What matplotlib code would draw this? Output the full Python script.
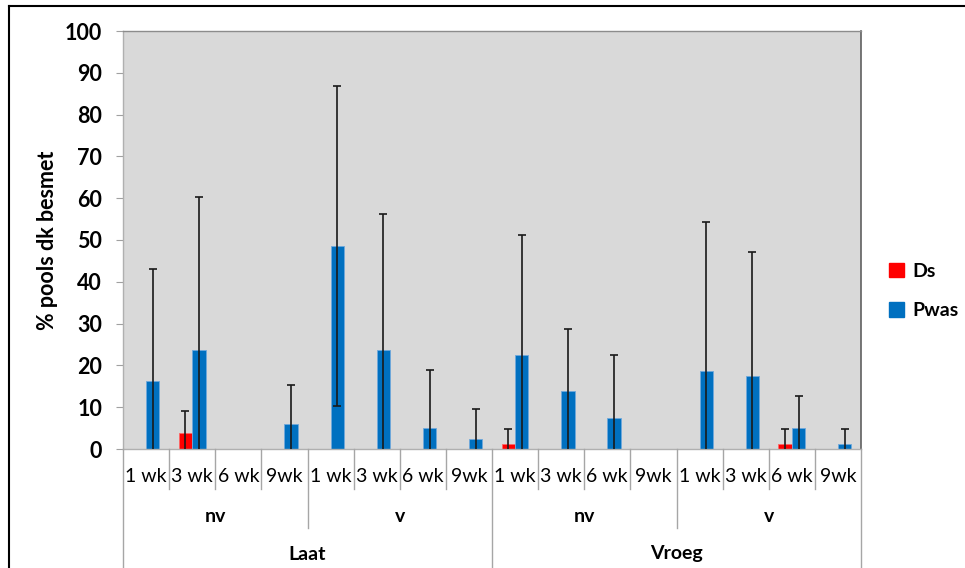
import matplotlib
matplotlib.use("Agg")
import matplotlib.pyplot as plt
import matplotlib.transforms as mtransforms
from matplotlib.lines import Line2D
import numpy as np

# ---- data ----
weeks = ["1 wk", "3 wk", "6 wk", "9wk"] * 4
treat = ["nv", "v", "nv", "v"]
timing = ["Laat", "Vroeg"]
ds_vals = [0, 3.8, 0, 0, 0, 0, 0, 0, 1.2, 0, 0, 0, 0, 0, 1.2, 0]
ds_err = [0, 5.3, 0, 0, 0, 0, 0, 0, 3.5, 0, 0, 0, 0, 0, 3.5, 0]
pwas_vals = [16.2, 23.6, 0, 6.1, 48.6, 23.6, 5.0, 2.4, 22.4, 13.8, 7.5, 0, 18.7, 17.5, 5.0, 1.2]
pwas_err = [26.8, 36.8, 0, 9.2, 38.2, 32.7, 14.0, 7.2, 28.7, 15.0, 14.9, 0, 35.6, 29.7, 7.6, 3.5]
series_names = ["Ds", "Pwas"]
yticks = list(range(0, 101, 10))

plt.rcParams['font.family'] = ['Lato', 'DejaVu Sans']

W, H = 965, 568
fig = plt.figure(figsize=(W / 100, H / 100), dpi=100)
fig.patch.set_facecolor("white")

L, R, T, B = 123, 861, 31, 449
ax = fig.add_axes([L / W, 1 - B / H, (R - L) / W, (B - T) / H])
ax.set_facecolor("#D9D9D9")

n = len(weeks)
x = np.arange(n)
bw = 0.29
red = "#FF0000"
blue = "#0070C0"

ax.bar(x - bw / 2, ds_vals, bw, color=red, edgecolor="#FF6666", linewidth=0.6, label=series_names[0], zorder=2)
ax.bar(x + bw / 2, pwas_vals, bw, color=blue, edgecolor="#6FA8DC", linewidth=0.6, label=series_names[1], zorder=2)

for xs, v, e in [(x - bw / 2, ds_vals, ds_err), (x + bw / 2, pwas_vals, pwas_err)]:
    xs2 = [xx for xx, ee in zip(xs, e) if ee > 0]
    v2 = [vv for vv, ee in zip(v, e) if ee > 0]
    e2 = [ee for ee in e if ee > 0]
    ax.errorbar(xs2, v2, yerr=e2, fmt="none", ecolor="#1a1a1a", elinewidth=1.2,
                capsize=3.2, capthick=1.2, zorder=3)

ax.set_xlim(-0.5, n - 0.5)
ax.set_ylim(0, 100)
ax.set_yticks(yticks)
ax.set_yticklabels([str(t) for t in yticks], fontsize=15.5, fontweight="bold")
ax.tick_params(axis="y", direction="out", length=5, color="#A0A0A0", pad=10)
ax.set_xticks([])
ax.set_ylabel("% pools dk besmet", fontsize=15.5, fontweight="bold", labelpad=5)

for s in ["left", "bottom"]:
    ax.spines[s].set_color("#B0B0B0")
    ax.spines[s].set_linewidth(1.0)
ax.spines["top"].set_color("#8C8C8C")
ax.spines["top"].set_linewidth(1.0)
ax.spines["right"].set_color("#606060")
ax.spines["right"].set_linewidth(1.2)

# multi-level category axis
trans = mtransforms.blended_transform_factory(ax.transData, fig.transFigure)
def fy(py):
    return 1 - py / H

sep_col = "#A6A6A6"
for i in range(n + 1):
    xb = i - 0.5
    if i % 8 == 0:
        y_end = H
    elif i % 4 == 0:
        y_end = 528
    else:
        y_end = 489
    fig.add_artist(Line2D([xb, xb], [fy(B), fy(y_end)], transform=trans, color=sep_col, lw=1.0))

for i, wlab in enumerate(weeks):
    ax.text(i, fy(476), wlab, transform=trans, ha="center", va="center", fontsize=14)
for j, tlab in enumerate(treat):
    ax.text(j * 4 + 1.5, fy(517), tlab, transform=trans, ha="center", va="center",
            fontsize=14, fontweight="bold")
for k, tm in enumerate(timing):
    ax.text(k * 8 + 3.5, fy(554), tm, transform=trans, ha="center", va="center",
            fontsize=14, fontweight="bold")

# legend
handles = [plt.Rectangle((0, 0), 1, 1, color=red), plt.Rectangle((0, 0), 1, 1, color=blue)]
leg = fig.legend(handles, series_names, loc="center left", bbox_to_anchor=(889 / W, 1 - 291 / H),
                 frameon=False, prop={"size": 14, "weight": "bold"}, borderpad=0, borderaxespad=0,
                 handlelength=0.75, handleheight=0.75, handletextpad=0.45, labelspacing=1.15)

# outer frame (left and top)
fig.add_artist(Line2D([8.5 / W, 8.5 / W], [0, 1 - 6 / H], transform=fig.transFigure, color="black", lw=1.5))
fig.add_artist(Line2D([8.5 / W, 1], [1 - 6 / H, 1 - 6 / H], transform=fig.transFigure, color="black", lw=1.5))

fig.savefig("out.png", dpi=100)
